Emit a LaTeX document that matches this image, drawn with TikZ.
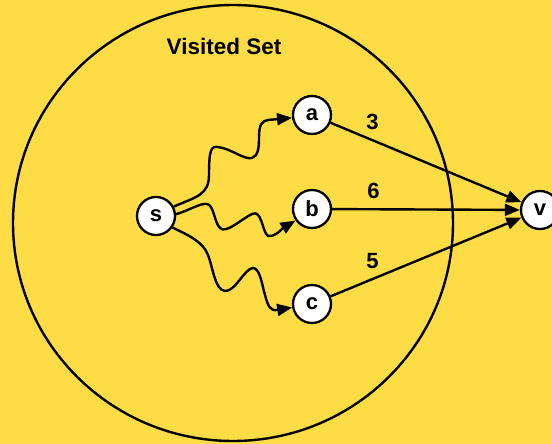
\documentclass[tikz,border=0pt]{standalone}
\usepackage{fontspec}
\setmainfont{Liberation Sans}
\usetikzlibrary{arrows.meta}
\definecolor{bgyellow}{HTML}{FEDC45}
\begin{document}
\begin{tikzpicture}[x=1pt,y=-1pt,
  vert/.style={circle, draw, fill=white, line width=2.3pt, minimum size=38pt,
    inner sep=0pt, font=\fontsize{22}{22}\selectfont\bfseries},
  edge/.style={line width=2.4pt, -{Triangle[length=15pt,width=12pt]}},
  lbl/.style={inner sep=0pt, font=\fontsize{22}{22}\selectfont\bfseries}]
\fill[bgyellow] (0,0) rectangle (552,444);
\useasboundingbox (0,0) rectangle (552,444);
% the visited set
\draw[line width=2.4pt] (233,223) ellipse [x radius=220pt, y radius=218pt];
\node[lbl, font=\fontsize{22.5}{22.5}\selectfont\bfseries] (title) at (224,46) {Visited Set};
% vertices
\node[vert] (s) at (156,216) {s};
\node[vert] (a) at (312,115) {a};
\node[vert] (b) at (312,209) {b};
\node[vert] (c) at (312,304) {c};
\node[vert] (v) at (540,210) {v};
% wiggly shortest paths inside the set
\draw[edge] (s.28) .. controls (196,197) and (209,195) .. (209,175)
  .. controls (209,150) and (211,146) .. (218,147)
  .. controls (232,149) and (244,160) .. (252,158)
  .. controls (258,156) and (259,148) .. (259,138)
  .. controls (259,124) and (262,121) .. (268,120) -- (a.188);
\draw[edge] (s.5) .. controls (190,210) and (200,203) .. (207,204)
  .. controls (214,205) and (214,222) .. (220,228)
  .. controls (226,234) and (240,220) .. (252,214)
  .. controls (262,209) and (262,232) .. (268,236)
  .. controls (274,237) and (279,232) .. (283,228) -- (b.215);
\draw[edge] (s.-35) .. controls (190,236) and (203,242) .. (208,255)
  .. controls (213,268) and (215,290) .. (225,291)
  .. controls (235,292) and (245,268) .. (253,268)
  .. controls (260,268) and (262,285) .. (265,295)
  .. controls (268,306) and (270,311) .. (277,310) -- (c.190);
% edges leaving the set
\draw[edge] (a) -- (v) node[lbl, pos=0.22, above=9pt] (wa) {3};
\draw[edge] (b) -- (v) node[lbl, pos=0.22, above=9pt] (wb) {6};
\draw[edge] (c) -- (v) node[lbl, pos=0.22, above=9pt] (wc) {5};
\end{tikzpicture}
\end{document}
